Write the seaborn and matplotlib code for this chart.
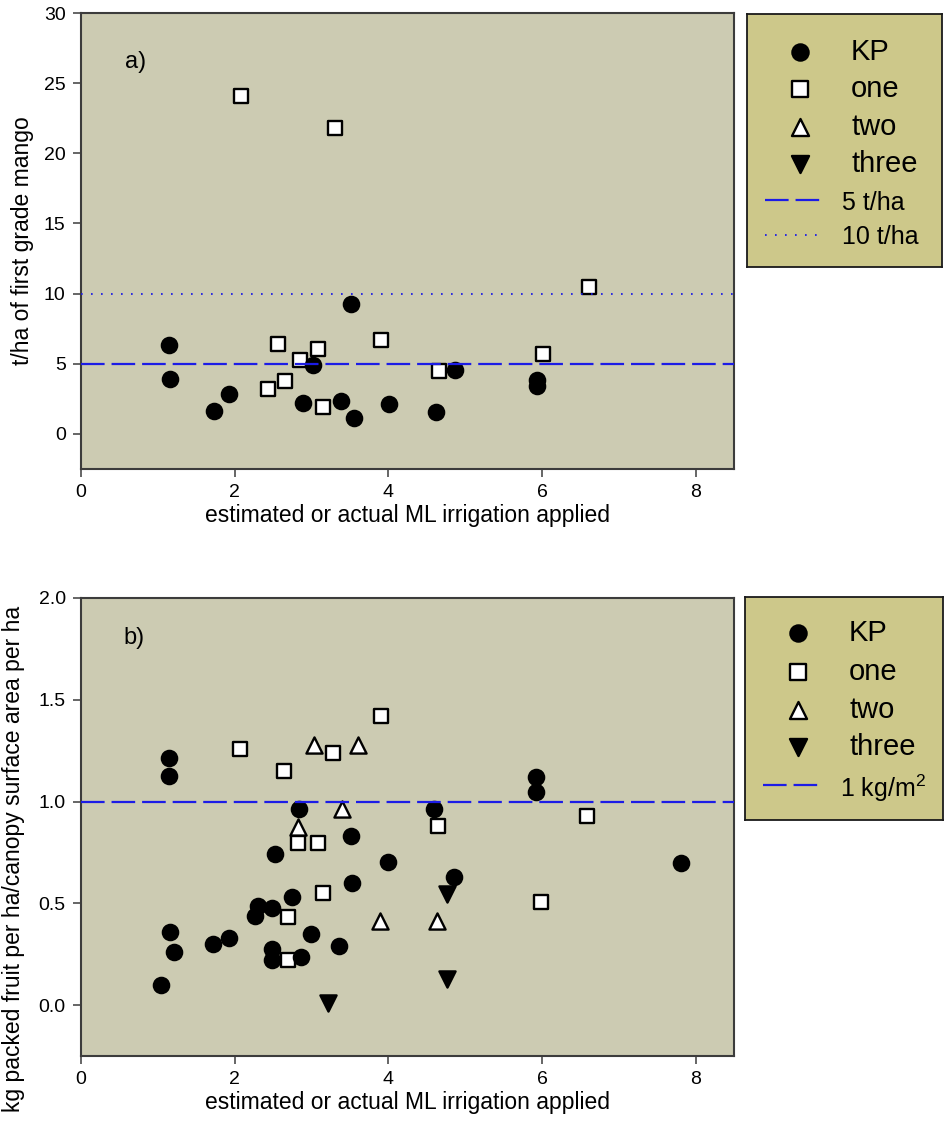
import matplotlib
matplotlib.use("Agg")
import matplotlib.pyplot as plt
import seaborn as sns
import pandas as pd

# ---------------- data ----------------
# panel a: t/ha of first grade mango
a_kp_x = [1.14, 1.16, 1.73, 1.93, 2.89, 3.02, 3.38, 3.52, 3.55, 4.01, 4.62, 4.87, 5.93, 5.93]
a_kp_y = [6.36, 3.92, 1.61, 2.81, 2.20, 4.92, 2.32, 9.24, 1.16, 2.13, 1.56, 4.56, 3.85, 3.40]
a_one_x = [2.08, 3.30, 2.57, 3.09, 2.85, 2.65, 2.43, 3.15, 3.91, 4.66, 6.01, 6.61]
a_one_y = [24.1, 21.8, 6.38, 6.05, 5.30, 3.76, 3.22, 1.94, 6.69, 4.52, 5.70, 10.5]

# panel b: kg packed fruit per ha / canopy surface area per ha
b_kp_x = [1.15, 1.14, 1.16, 1.21, 1.04, 1.72, 1.92, 2.30, 2.26, 2.48, 2.53, 2.49, 2.48,
          2.75, 2.84, 2.87, 3.00, 3.36, 3.51, 3.53, 3.99, 4.60, 4.86, 5.92, 5.92, 7.81]
b_kp_y = [1.215, 1.125, 0.357, 0.259, 0.097, 0.300, 0.328, 0.488, 0.440, 0.475, 0.744, 0.274, 0.221,
          0.530, 0.963, 0.236, 0.350, 0.288, 0.832, 0.600, 0.704, 0.961, 0.627, 1.120, 1.045, 0.700]
b_one_x = [2.07, 2.64, 3.28, 3.90, 2.83, 3.08, 3.15, 2.70, 2.70, 4.65, 6.59, 5.99]
b_one_y = [1.26, 1.15, 1.24, 1.42, 0.794, 0.794, 0.549, 0.434, 0.220, 0.880, 0.930, 0.508]
b_two_x = [3.03, 3.61, 3.40, 2.82, 3.89, 4.64]
b_two_y = [1.279, 1.279, 0.961, 0.873, 0.414, 0.414]
b_three_x = [4.77, 4.77, 3.21]
b_three_y = [0.545, 0.128, 0.011]

groups = ["KP", "one", "two", "three"]
a_ref_lines = [5, 10]
a_ref_labels = ["5 t/ha", "10 t/ha"]
b_ref_lines = [1.0]
b_ref_labels = ["1 kg/m$^2$"]

x_ticks = [0, 2, 4, 6, 8]
a_y_ticks = [0, 5, 10, 15, 20, 25, 30]
b_y_ticks = [0.0, 0.5, 1.0, 1.5, 2.0]

# ---------------- style ----------------
sns.set_style("ticks")
plt.rcParams["font.family"] = ["Liberation Sans", "DejaVu Sans"]
plt.rcParams["mathtext.fontset"] = "custom"
plt.rcParams["mathtext.rm"] = "Liberation Sans"
plt.rcParams["mathtext.it"] = "Liberation Sans"
plt.rcParams["mathtext.default"] = "regular"
plt.rcParams["lines.scale_dashes"] = False
plt.rcParams["text.color"] = "black"
plt.rcParams["axes.labelcolor"] = "black"
plt.rcParams["xtick.labelcolor"] = "black"
plt.rcParams["ytick.labelcolor"] = "black"

AX_BG = "#cccbb2"
LEG_BG = "#cdc88a"
BLUE = "#1c1ce6"
SPINE = "#3c3c3c"

marker_map = {"KP": "o", "one": "s", "two": "^", "three": "v"}
face_map = {"KP": "black", "one": "white", "two": "white", "three": "black"}
size_map = {"KP": 120, "one": 115, "two": 135, "three": 135}

W, H = 948, 1124
fig = plt.figure(figsize=(W / 100, H / 100), dpi=100)


def frac(left, top, right, bottom):
    return [left / W, 1 - bottom / H, (right - left) / W, (bottom - top) / H]


ax_a = fig.add_axes(frac(81, 13, 734, 469))
ax_b = fig.add_axes(frac(81, 598, 734, 1056))

df_a = pd.concat([
    pd.DataFrame({"x": a_one_x, "y": a_one_y, "group": "one"}),
    pd.DataFrame({"x": a_kp_x, "y": a_kp_y, "group": "KP"}),
])
df_b = pd.concat([
    pd.DataFrame({"x": b_one_x, "y": b_one_y, "group": "one"}),
    pd.DataFrame({"x": b_two_x, "y": b_two_y, "group": "two"}),
    pd.DataFrame({"x": b_three_x, "y": b_three_y, "group": "three"}),
    pd.DataFrame({"x": b_kp_x, "y": b_kp_y, "group": "KP"}),
])


def draw_points(ax, df):
    for g in df["group"].unique():
        sub = df[df["group"] == g]
        sns.scatterplot(data=sub, x="x", y="y", ax=ax, marker=marker_map[g],
                        color=face_map[g], edgecolor="black", linewidth=1.7,
                        s=size_map[g], legend=False, zorder=3)


draw_points(ax_a, df_a)
draw_points(ax_b, df_b)

ax_a.axhline(a_ref_lines[0], color=BLUE, lw=1.6, dashes=(17, 5), zorder=4)
ax_a.axhline(a_ref_lines[1], color=BLUE, lw=1.3, dashes=(1.2, 6), zorder=4)
ax_b.axhline(b_ref_lines[0], color=BLUE, lw=1.6, dashes=(17, 5), zorder=4)

for ax, yt, ylim in [(ax_a, a_y_ticks, (-2.5, 30)), (ax_b, b_y_ticks, (-0.25, 2.0))]:
    ax.set_facecolor(AX_BG)
    ax.set_xlim(0, 8.5)
    ax.set_ylim(*ylim)
    ax.set_xticks(x_ticks)
    ax.set_yticks(yt)
    for s in ax.spines.values():
        s.set_color(SPINE)
        s.set_linewidth(1.5)
        s.set_visible(True)
    ax.tick_params(direction="out", length=6, width=1.1, color=SPINE,
                   labelcolor="black", labelsize=14, pad=5, top=False, right=False)
    ax.set_xlabel("estimated or actual ML irrigation applied", fontsize=16.5, labelpad=2)

ax_b.set_yticklabels([f"{v:.1f}" for v in b_y_ticks])

ax_a.set_ylabel("t/ha of first grade mango", fontsize=16.5)
ax_b.set_ylabel("kg packed fruit per ha/canopy surface area per ha", fontsize=16.5)
ax_a.yaxis.set_label_coords(-0.072, 0.5)
ax_b.yaxis.set_label_coords(-0.086, 0.43)

ax_a.text(0.084, 0.8925, "a)", transform=ax_a.transAxes, fontsize=17,
          ha="center", va="center")
ax_b.text(0.081, 0.9127, "b)", transform=ax_b.transAxes, fontsize=17,
          ha="center", va="center")


# ---------------- legends (boxes drawn as small axes) ----------------
def legend_box(left, top, right, bottom, rows, lines):
    lax = fig.add_axes(frac(left, top, right, bottom))
    lax.set_facecolor(LEG_BG)
    lax.set_xlim(0, right - left)
    lax.set_ylim(bottom - top, 0)
    lax.set_xticks([])
    lax.set_yticks([])
    for s in lax.spines.values():
        s.set_color("#1a1a1a")
        s.set_linewidth(1.3)
    for g, yy in rows:
        lax.scatter([53], [yy], marker=marker_map[g], c=face_map[g],
                    edgecolors="black", linewidths=1.7, s=size_map[g] + 15, zorder=3)
        lax.text(104, yy, g, fontsize=21, va="center", ha="left")
    for (lab, yy, kind) in lines:
        if kind == "dash":
            lax.plot([18, 74], [yy, yy], color=BLUE, lw=1.6, dashes=(17, 5))
        else:
            lax.plot([18, 74], [yy, yy], color=BLUE, lw=1.3, dashes=(1.2, 6))
        lax.text(95, yy, lab, fontsize=18, va="center_baseline", ha="left")
    return lax


legend_box(747, 14, 942, 267,
           [("KP", 38), ("one", 75), ("two", 113), ("three", 150)],
           [(a_ref_labels[0], 186, "dash"), (a_ref_labels[1], 221, "dot")])
legend_box(745, 597, 943, 820,
           [("KP", 36), ("one", 75), ("two", 113), ("three", 150)],
           [(b_ref_labels[0], 188, "dash")])

fig.savefig("out.png", dpi=100, facecolor="white")
